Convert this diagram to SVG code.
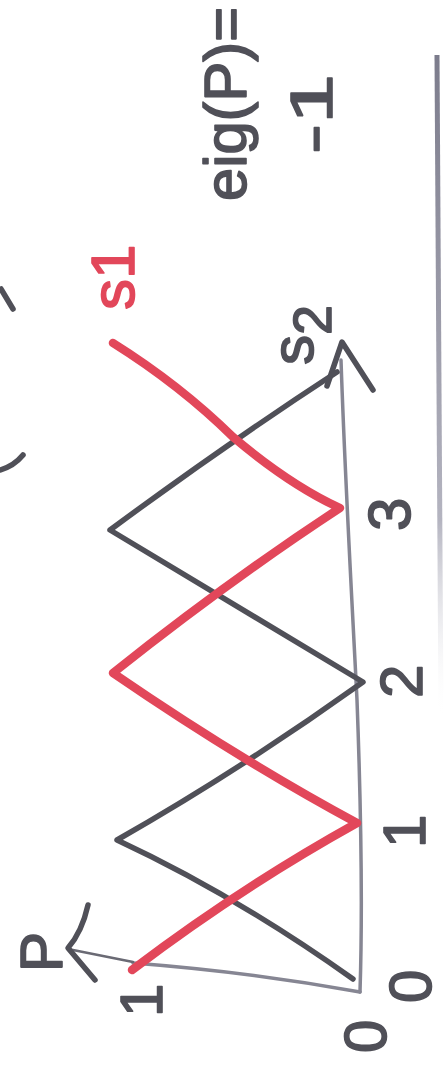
<svg xmlns="http://www.w3.org/2000/svg" width="446" height="1068" viewBox="0 0 446 1068">
<style>
.ink{fill:none;stroke:#505058;stroke-width:5.5;stroke-linecap:round;stroke-linejoin:round}
.red{fill:none;stroke:#e2475a;stroke-width:8.5;stroke-linecap:round;stroke-linejoin:round}
.axis{fill:none;stroke:#868693;stroke-width:3.5;stroke-linecap:round;stroke-linejoin:round}
.thin{fill:none;stroke:#6a6a74;stroke-width:2.5;stroke-linecap:round}
.t{font-family:"Liberation Sans",Arial,sans-serif;font-size:60px;fill:#505058;stroke:#505058;stroke-width:1.6;stroke-linejoin:round}
.tr{font-family:"Liberation Sans",Arial,sans-serif;font-size:62px;fill:#e2475a;stroke:#e2475a;stroke-width:1.6;stroke-linejoin:round}
</style>
<defs>
<linearGradient id="edge" gradientUnits="userSpaceOnUse" x1="0" y1="55" x2="0" y2="720">
<stop offset="0" stop-color="#7c7c8c"/>
<stop offset="0.7" stop-color="#b4b4c0"/>
<stop offset="1" stop-color="#ffffff" stop-opacity="0"/>
</linearGradient>
</defs>
<rect width="446" height="1068" fill="#ffffff"/>
<path d="M437,55 L441,720" fill="none" stroke="url(#edge)" stroke-width="5"/>
<g id="fragments">
<path class="ink" d="M1,289 L13,309" stroke-width="4"/>
<path class="ink" d="M0,470 Q14,466 23,455" stroke-width="4"/>
</g>
<g id="title">
<text class="t" transform="translate(246,201) rotate(-90)" textLength="194" lengthAdjust="spacingAndGlyphs">eig(P)=</text>
<text class="t" transform="translate(332,154) rotate(-90)" textLength="80" lengthAdjust="spacingAndGlyphs">-1</text>
</g>
<g id="axes">
<path id="x-axis" class="axis" d="M360,992 C363,900 360,780 357,700 C352,600 345,480 341,360"/>
<path id="x-arrow" class="ink" d="M327,386 L342,342 L373,390"/>
<path id="y-axis" class="axis" d="M360,992 Q250,972 133,963" stroke="#6d6d78" stroke-width="4"/>
<path class="thin" d="M133,962 L68,949"/>
<path id="y-arrow" class="ink" d="M88,905 Q82,932 68,948 L95,980" stroke-width="4.5"/>
</g>
<g id="ticks">
<text class="t" transform="translate(410,531) rotate(-90)">3</text>
<text class="t" transform="translate(422,698) rotate(-90)">2</text>
<text class="t" transform="translate(425,848) rotate(-90)">1</text>
<text class="t" transform="translate(431,1003) rotate(-90)">0</text>
<text class="t" transform="translate(386,1053) rotate(-90)">0</text>
<text class="t" transform="translate(162,1017) rotate(-90)">1</text>
<text class="t" transform="translate(62,972) rotate(-90)">P</text>
</g>
<g id="connectors">
<path id="s2-line" class="ink" d="M353,979 Q235,895 117,840 Q240,770 363,682 Q235,605 110,530 Q225,445 337,372"/>
<path id="s1-line" class="red" d="M132,970 Q240,888 357,823 Q240,760 113,673 Q230,580 340,508 Q290,485 233,437 Q180,385 113,343"/>
</g>
<g id="s1">
<text class="tr" transform="translate(134,310) rotate(-90)">s1</text>
</g>
<g id="s2">
<text class="t" transform="translate(313,365) rotate(-90)">s<tspan dy="18" font-size="54">2</tspan></text>
</g>
</svg>
